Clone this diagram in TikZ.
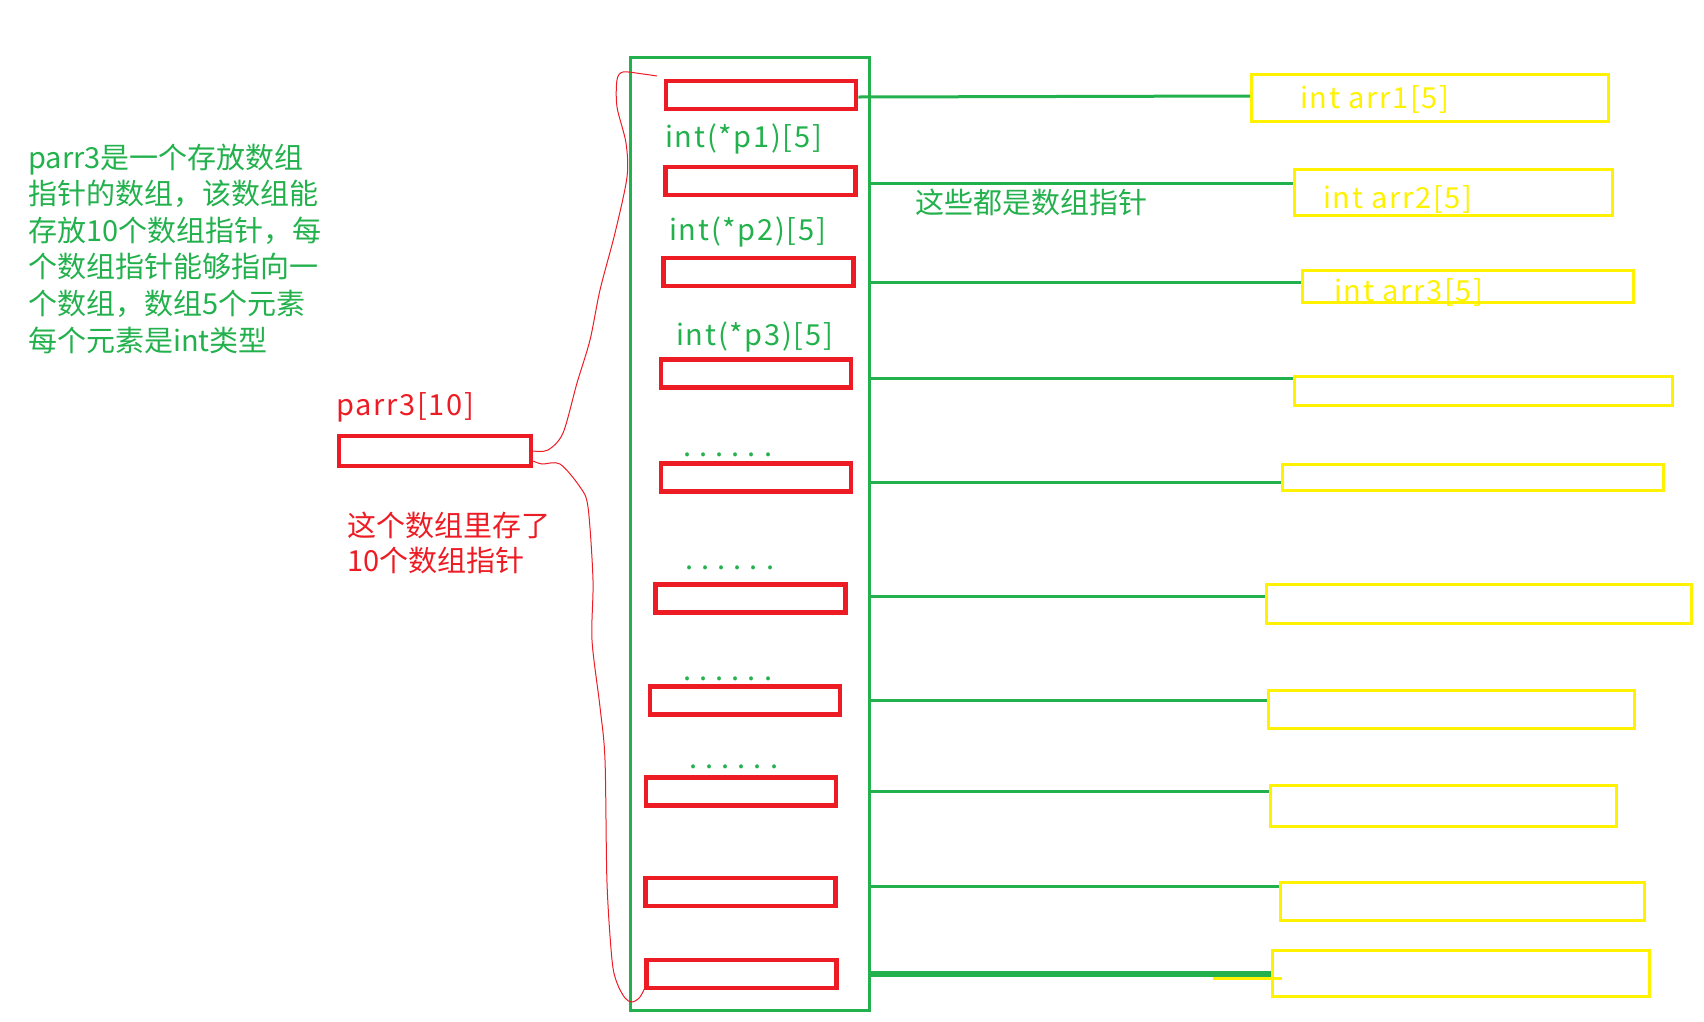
\documentclass[tikz,border=0pt]{standalone}
\usepackage{fontspec}
\setmainfont{Noto Sans CJK SC}
\newfontfamily\dotfont[LetterSpace=28]{Noto Sans CJK SC}
\newfontfamily\codefont[LetterSpace=6]{Noto Sans CJK SC}
\definecolor{paintred}{RGB}{237,28,36}
\definecolor{paintgreen}{RGB}{34,177,76}
\definecolor{paintyellow}{RGB}{255,242,0}
\begin{document}
\begin{tikzpicture}[x=1pt,y=-1pt,
        every node/.style={inner sep=0pt,font=\fontsize{29}{36.6}\selectfont},
        ptrbox/.style={draw=paintred,line width=4.5pt,minimum width=190pt,minimum height=28pt},
        arrbox/.style={draw=paintyellow,line width=3pt},
        link/.style={draw=paintgreen,line width=3pt},
        brace/.style={draw=paintred,line width=1pt},
        greentext/.style={text=paintgreen,anchor=west,align=left},
        redtext/.style={text=paintred,anchor=west,align=left},
        arrtext/.style={text=paintyellow,anchor=west},
        code/.style={font=\codefont\fontsize{29}{36.6}\selectfont}]
        \useasboundingbox (0,0) rectangle (1704,1021);
        \node[draw=paintgreen,line width=3pt,minimum width=239pt,minimum height=953pt] (col) at (750,534) {};
        \foreach \i/\cx/\cy in {1/761/95,2/760.5/181,3/758.5/272,4/756/373.5,5/756/477.5,
            6/750.5/598.5,7/745/700.5,8/741/791.5,9/740.5/892,10/741.5/974}
            \node[ptrbox] (p\i) at (\cx,\cy) {};
        \foreach \i/\cx/\cy/\w/\h in {1/1430/98/357/47,2/1453.5/192.5/318/46,3/1468/286.5/331/32,
            4/1483.5/391/378/29,5/1473/477.5/381/26,6/1479/604/425/39,7/1451.5/709.5/366/38,
            8/1443.5/806/346/41,9/1462.5/901.5/364/38,10/1461/973.5/377/46}
            \node[arrbox,minimum width=\w pt,minimum height=\h pt] (a\i) at (\cx,\cy) {};
        \node[ptrbox,minimum width=192pt,minimum height=30pt] (parr) at (435,451) {};
        % labels
        \node[greentext] (note) at (28,248.5) {parr3是一个存放数组\\指针的数组，该数组能\\存放10个数组指针，每\\个数组指针能够指向一\\个数组，数组5个元素\\每个元素是int类型};
        \node[redtext,code] (parrname) at (336,407) {parr3[10]};
        \node[redtext,font=\fontsize{29}{35}\selectfont] (parrnote) at (347,542.5) {这个数组里存了\\10个数组指针};
        \node[greentext] (ptrnote) at (915,202) {这些都是数组指针};
        \node[greentext,code] (t1) at (665,139) {int(*p1)[5]};
        \node[greentext,code] (t2) at (669,232) {int(*p2)[5]};
        \node[greentext,code] (t3) at (676,337) {int(*p3)[5]};
        \foreach \x/\y [count=\i] in {683/455,685/568,683/679,689/767}
            \node[greentext,font=\dotfont\fontsize{29}{36.6}\selectfont] (dots\i) at (\x,\y) {......};
        \node[arrtext,code] (n1) at (1300,99) {int arr1[5]};
        \node[arrtext,code] (n2) at (1323,199) {int arr2[5]};
        \node[arrtext,code] (n3) at (1334,292) {int arr3[5]};
        % pointers
        \draw[link] (p1.east |- 0,97) -- (a1.west |- 0,96);
        \foreach \i/\y in {2/183,3/282,4/378,5/482,6/596,7/700,8/791,9/886}
            \draw[link] (col.east |- 0,\y) -- (a\i.west |- 0,\y);
        \draw[paintyellow,line width=3pt] (1213,978) -- (1282,978);
        \draw[link,line width=6pt] (col.east |- 0,974) -- (a10.west |- 0,974);
        % brace
        \draw[brace] plot[smooth,tension=0.5] coordinates {(parr.east) (548,450) (563,433) (577,383)
            (590,340) (600,290) (615,233) (627,177) (626,143) (617,107) (617,80) (623,72) (643,74) (657,76)};
        \draw[brace] plot[smooth,tension=0.5] coordinates {([yshift=-10pt]parr.east) (542,464) (560,464)
            (580,487) (588,507) (593,580) (592,640) (600,707) (605,760) (607,883) (612,960) (617,983)
            (625,998) (632,1002) (640,997) (647,983)};
    \end{tikzpicture}
\end{document}
